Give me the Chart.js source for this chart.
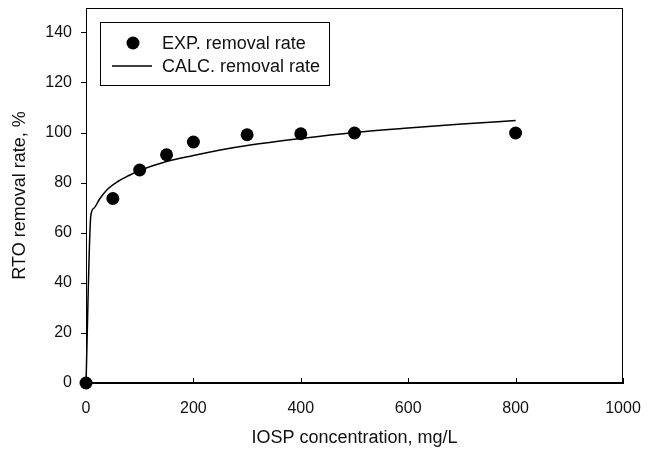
<!DOCTYPE html>
<html>
<head>
<meta charset="utf-8">
<script src="https://cdn.jsdelivr.net/npm/chart.js@4/dist/chart.umd.min.js"></script>
<style>
  html, body { margin: 0; padding: 0; background: #ffffff; }
  #wrap { width: 650px; height: 456px; position: relative; }
</style>
</head>
<body>
<div id="wrap"><canvas id="c" width="650" height="456"></canvas></div>
<script>
// ---- data ----
const expLabel = "EXP. removal rate";
const calcLabel = "CALC. removal rate";
const expConc = [0, 50, 100, 150, 200, 300, 400, 500, 800];
const expRate = [0, 73.8, 85.2, 91.3, 96.4, 99.3, 99.7, 100, 100];
const calcConc = [0, 9, 15, 25, 40, 60, 80, 100, 150, 200, 250, 300, 400, 500, 600, 700, 800];
const calcRate = [0, 67, 70, 73.5, 77.5, 80.7, 83, 85, 88.6, 91, 93.2, 95, 97.8, 100.2, 102, 103.6, 105];
const xTicks = [0, 200, 400, 600, 800, 1000];
const yTicks = [0, 20, 40, 60, 80, 100, 120, 140];
const xTitle = "IOSP concentration, mg/L";
const yTitle = "RTO removal rate, %";

const FONT = "'Liberation Sans', Arial, Helvetica, sans-serif";

const expPts = expConc.map((x, i) => ({ x: x, y: expRate[i] }));
const calcPts = calcConc.map((x, i) => ({ x: x, y: calcRate[i] }));

// Frame + inside x ticks
const framePlugin = {
  id: 'frame',
  afterDatasetsDraw(chart) {
    const { ctx, chartArea: a, scales } = chart;
    ctx.save();
    ctx.strokeStyle = '#000';
    ctx.lineWidth = 1;
    ctx.strokeRect(Math.round(a.left) + 0.5, Math.round(a.top) + 0.5,
      Math.round(a.right - a.left) - 1, Math.round(a.bottom - a.top) - 1);
    const xs = scales.x;
    ctx.beginPath();
    xs.ticks.forEach((t, i) => {
      const px = Math.round(xs.getPixelForTick(i)) + 0.5;
      ctx.moveTo(px, a.bottom);
      ctx.lineTo(px, a.bottom - 5);
    });
    ctx.stroke();
    ctx.restore();
  }
};

// Legend box drawn inside the plot
const legendPlugin = {
  id: 'insideLegend',
  afterDraw(chart) {
    const { ctx } = chart;
    const ds = chart.data.datasets;
    ctx.save();
    ctx.strokeStyle = '#000';
    ctx.lineWidth = 1;
    ctx.strokeRect(100.5, 22.5, 229, 63);
    ctx.fillStyle = '#000';
    ctx.beginPath();
    ctx.arc(133, 43, 6.5, 0, Math.PI * 2);
    ctx.fill();
    ctx.lineWidth = 1.5;
    ctx.beginPath();
    ctx.moveTo(112, 66);
    ctx.lineTo(152, 66);
    ctx.stroke();
    ctx.font = "18px " + FONT;
    ctx.textBaseline = 'middle';
    ctx.textAlign = 'left';
    ctx.fillStyle = '#111';
    ctx.fillText(ds[0].label, 162, 44);
    ctx.fillText(ds[1].label, 162, 67);
    ctx.restore();
  }
};

new Chart(document.getElementById('c'), {
  type: 'scatter',
  data: {
    datasets: [
      {
        label: expLabel,
        data: expPts,
        showLine: false,
        pointRadius: 6.5,
        pointHoverRadius: 6.5,
        pointBackgroundColor: '#000',
        pointBorderColor: '#000',
        borderWidth: 0,
        clip: false,
        order: 0
      },
      {
        label: calcLabel,
        data: calcPts,
        showLine: true,
        borderColor: '#000',
        borderWidth: 1.5,
        pointRadius: 0,
        cubicInterpolationMode: 'monotone',
        fill: false,
        clip: false,
        order: 1
      }
    ]
  },
  options: {
    responsive: false,
    animation: false,
    events: [],
    layout: { padding: { left: 0, right: 27, top: 8, bottom: 0 } },
    plugins: {
      legend: { display: false },
      tooltip: { enabled: false }
    },
    scales: {
      x: {
        type: 'linear',
        min: 0,
        max: 1000,
        afterBuildTicks(scale) { scale.ticks = xTicks.map(v => ({ value: v })); },
        afterFit(scale) {
          scale.height = 73;
          scale.paddingLeft = 0; scale.paddingRight = 0;
        },
        grid: { display: true, drawOnChartArea: false, drawTicks: false, color: '#000' },
        border: { display: true, color: '#000', width: 1 },
        ticks: {
          padding: 16,
          color: '#111',
          font: { family: FONT, size: 16 },
          maxRotation: 0,
          callback: (v) => String(v)
        },
        title: {
          display: true,
          text: xTitle,
          color: '#111',
          font: { family: FONT, size: 18 },
          padding: { top: 0, bottom: 7 }
        }
      },
      y: {
        type: 'linear',
        min: 0,
        max: 150,
        afterBuildTicks(scale) { scale.ticks = yTicks.map(v => ({ value: v })); },
        afterFit(scale) {
          scale.width = 86;
          scale.paddingTop = 0; scale.paddingBottom = 0;
        },
        grid: { display: true, drawOnChartArea: false, drawTicks: true, tickLength: 5, color: '#000' },
        border: { display: true, color: '#000', width: 1 },
        ticks: {
          padding: 9,
          color: '#111',
          font: { family: FONT, size: 16 },
          callback: (v) => String(v)
        },
        title: {
          display: true,
          text: yTitle,
          color: '#111',
          font: { family: FONT, size: 18 },
          padding: { top: 9, bottom: 0 }
        }
      }
    }
  },
  plugins: [framePlugin, legendPlugin]
});
</script>
</body>
</html>
